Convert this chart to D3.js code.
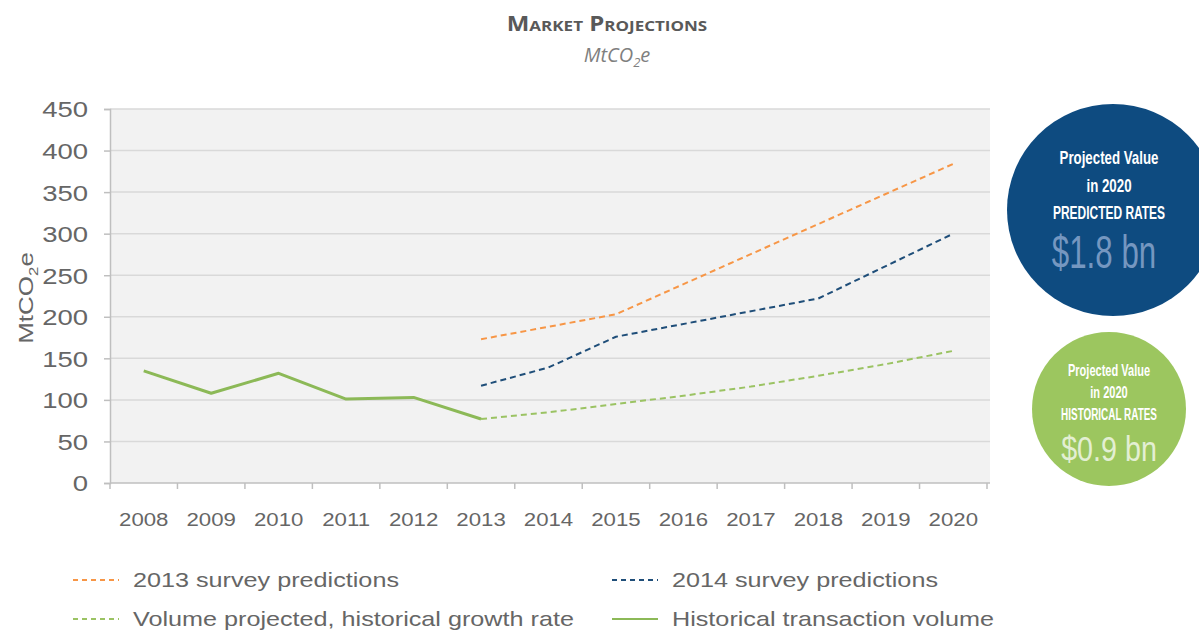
<!DOCTYPE html>
<html>
<head>
<meta charset="utf-8">
<script src="https://cdn.jsdelivr.net/npm/d3@7"></script>
<style>
  body { margin: 0; background: #fff; }
  svg { display: block; }
</style>
</head>
<body>
<svg id="chart" width="1199" height="631"></svg>
<script>
// ---- data ----
var years = ["2008","2009","2010","2011","2012","2013","2014","2015","2016","2017","2018","2019","2020"];
var yTicks = [0, 50, 100, 150, 200, 250, 300, 350, 400, 450];

var historical = [
  {year:"2008", v:135}, {year:"2009", v:108}, {year:"2010", v:132},
  {year:"2011", v:101}, {year:"2012", v:103}, {year:"2013", v:77}
];
var survey2013 = [
  {year:"2013", v:173}, {year:"2015", v:203}, {year:"2020", v:384}
];
var survey2014 = [
  {year:"2013", v:117}, {year:"2014", v:139}, {year:"2015", v:176},
  {year:"2018", v:222}, {year:"2020", v:300}
];
var histGrowth = [
  {year:"2013", v:77}, {year:"2014", v:85}, {year:"2015", v:95}, {year:"2016", v:105},
  {year:"2017", v:116}, {year:"2018", v:129}, {year:"2019", v:143}, {year:"2020", v:159}
];

var legendItems = [
  {label:"2013 survey predictions", color:"#f79646", dash:"5,4", col:0, row:0},
  {label:"2014 survey predictions", color:"#1f4e79", dash:"5,4", col:1, row:0},
  {label:"Volume projected, historical growth rate", color:"#9bc363", dash:"5,4", col:0, row:1},
  {label:"Historical transaction volume", color:"#8cb957", dash:null, col:1, row:1}
];

var bubbles = [
  {lines:["Projected Value","in 2020","PREDICTED RATES"], value:"$1.8 bn", fill:"#0e4b80", valueColor:"#7597c0",
   cx:1113, cy:210, r:106, size:19, big:46, lineY:[-46,-18,9], lineSX:[0.70,0.70,0.63], valY:58, valSX:0.68, dx:-4, valDx:-9},
  {lines:["Projected Value","in 2020","HISTORICAL RATES"], value:"$0.9 bn", fill:"#9cc65f", valueColor:"#e3efd3",
   cx:1109, cy:409, r:77, size:16, big:35, lineY:[-33,-11,11], lineSX:[0.69,0.69,0.62], valY:52, valSX:0.82, dx:0, valDx:0}
];

//--------------------------------- setup ---------------------------------//
var svg = d3.select("#chart");
var font = "'Liberation Sans', Arial, sans-serif";

var plotL = 110, plotR = 987, plotT = 109, plotB = 483, bgR = 990;

var x = d3.scaleBand().domain(years).range([plotL, plotR]);
var y = d3.scaleLinear().domain([0, 450]).range([plotB, plotT]);

// stretch text sideways (the reference is a bit wide)
function stretch(sel, sx, px, py) {
  sel.attr("transform", "translate(" + px + "," + py + ") scale(" + sx + ",1)");
}

// title
var title = svg.append("text")
  .attr("text-anchor", "middle")
  .style("font-family", "'Open Sans', sans-serif")
  .style("font-weight", "bold")
  .style("font-variant", "small-caps")
  .style("font-size", "21px")
  .style("fill", "#595959")
  .text("Market Projections");
stretch(title, 1.14, 607, 31);

var sub = svg.append("text")
  .attr("x", 617).attr("y", 62)
  .attr("text-anchor", "middle")
  .style("font-family", "'Open Sans', sans-serif")
  .style("font-style", "italic")
  .style("font-size", "20px")
  .style("fill", "#7f7f7f");
sub.append("tspan").text("MtCO");
sub.append("tspan").attr("dy", 5).style("font-size", "13px").text("2");
sub.append("tspan").attr("dy", -5).text("e");

// plot background
svg.append("rect")
  .attr("x", plotL).attr("y", plotT)
  .attr("width", bgR - plotL).attr("height", plotB - plotT)
  .attr("fill", "#f2f2f2");

// gridlines
svg.append("g").selectAll("line")
  .data(yTicks.filter(function(d){ return d > 0; }))
  .enter().append("line")
  .attr("x1", plotL).attr("x2", bgR)
  .attr("y1", function(d){ return y(d); })
  .attr("y2", function(d){ return y(d); })
  .attr("stroke", "#d9d9d9")
  .attr("stroke-width", 1.5);

// y axis
var yAxis = svg.append("g")
  .attr("transform", "translate(" + plotL + ",0)")
  .call(d3.axisLeft(y).tickValues(yTicks).tickSize(6).tickPadding(0));
yAxis.select(".domain").attr("stroke", "#bfbfbf").attr("stroke-width", 1.5);
yAxis.selectAll(".tick line").attr("stroke", "#bfbfbf").attr("stroke-width", 1.5);
yAxis.selectAll("text")
  .attr("x", null)
  .attr("transform", "translate(-22,0) scale(1.25,1)")
  .attr("dy", "0.36em")
  .style("font-family", font).style("font-size", "22px").style("fill", "#666");

// x axis - ticks at the band edges
var xAxis = svg.append("g")
  .attr("transform", "translate(0," + plotB + ")")
  .call(d3.axisBottom(x).tickSize(0).tickPadding(0));
xAxis.select(".domain").attr("stroke", "#bfbfbf").attr("stroke-width", 1.5)
  .attr("d", "M" + plotL + ",0H" + bgR);
xAxis.selectAll("text")
  .attr("y", null).attr("dy", null)
  .attr("transform", "translate(0,43) scale(1.17,1)")
  .style("font-family", font).style("font-size", "19px").style("fill", "#666");
xAxis.selectAll(".edge")
  .data(years.concat(["end"]))
  .enter().append("line")
  .attr("class", "edge")
  .attr("x1", function(d, i){ return plotL + i * x.step(); })
  .attr("x2", function(d, i){ return plotL + i * x.step(); })
  .attr("y1", 0).attr("y2", 6)
  .attr("stroke", "#bfbfbf").attr("stroke-width", 1.5);

// y axis title
var yt = svg.append("text")
  .attr("transform", "translate(33,298) rotate(-90) scale(1.3,1)")
  .attr("text-anchor", "middle")
  .style("font-family", font).style("font-size", "20px").style("fill", "#666");
yt.append("tspan").text("MtCO");
yt.append("tspan").attr("dy", 5).style("font-size", "13px").text("2");
yt.append("tspan").attr("dy", -5).text("e");

//--------------------------------- lines ---------------------------------//
var line = d3.line()
  .x(function(d){ return x(d.year) + x.bandwidth() / 2; })
  .y(function(d){ return y(d.v); });

function drawLine(data, color, dash, width) {
  svg.append("path")
    .datum(data)
    .attr("d", line)
    .attr("fill", "none")
    .attr("stroke", color)
    .attr("stroke-width", width)
    .attr("stroke-dasharray", dash)
    .attr("stroke-linejoin", "round");
}
drawLine(histGrowth, "#9bc363", "6,4", 2);
drawLine(survey2013, "#f79646", "6,4", 2);
drawLine(survey2014, "#1f4e79", "6,4", 2);
drawLine(historical, "#8cb957", null, 3);

//--------------------------------- legend ---------------------------------//
var legend = svg.append("g").selectAll("g")
  .data(legendItems)
  .enter().append("g")
  .attr("transform", function(d){ return "translate(" + (d.col ? 612 : 73) + "," + (d.row ? 619 : 580) + ")"; });
legend.append("line")
  .attr("x1", 0).attr("x2", 46)
  .attr("y1", 0).attr("y2", 0)
  .attr("stroke", function(d){ return d.color; })
  .attr("stroke-width", 2)
  .attr("stroke-dasharray", function(d){ return d.dash; });
legend.append("text")
  .attr("transform", "translate(60,7) scale(1.26,1)")
  .style("font-family", font).style("font-size", "20px").style("fill", "#666")
  .text(function(d){ return d.label; });

//--------------------------------- bubbles ---------------------------------//
var bub = svg.append("g").selectAll("g")
  .data(bubbles)
  .enter().append("g")
  .attr("transform", function(d){ return "translate(" + d.cx + "," + d.cy + ")"; });
bub.append("circle")
  .attr("r", function(d){ return d.r; })
  .attr("fill", function(d){ return d.fill; });
bub.each(function(d) {
  var g = d3.select(this);
  d.lines.forEach(function(t, i) {
    g.append("text")
      .attr("transform", "translate(" + d.dx + "," + d.lineY[i] + ") scale(" + d.lineSX[i] + ",1)")
      .attr("text-anchor", "middle")
      .style("font-family", font)
      .style("font-weight", "bold")
      .style("font-size", d.size + "px")
      .style("fill", "#ffffff")
      .text(t);
  });
  g.append("text")
    .attr("transform", "translate(" + d.valDx + "," + d.valY + ") scale(" + d.valSX + ",1)")
    .attr("text-anchor", "middle")
    .style("font-family", font)
    .style("font-size", d.big + "px")
    .style("fill", d.valueColor)
    .text(d.value);
});
</script>
</body>
</html>
